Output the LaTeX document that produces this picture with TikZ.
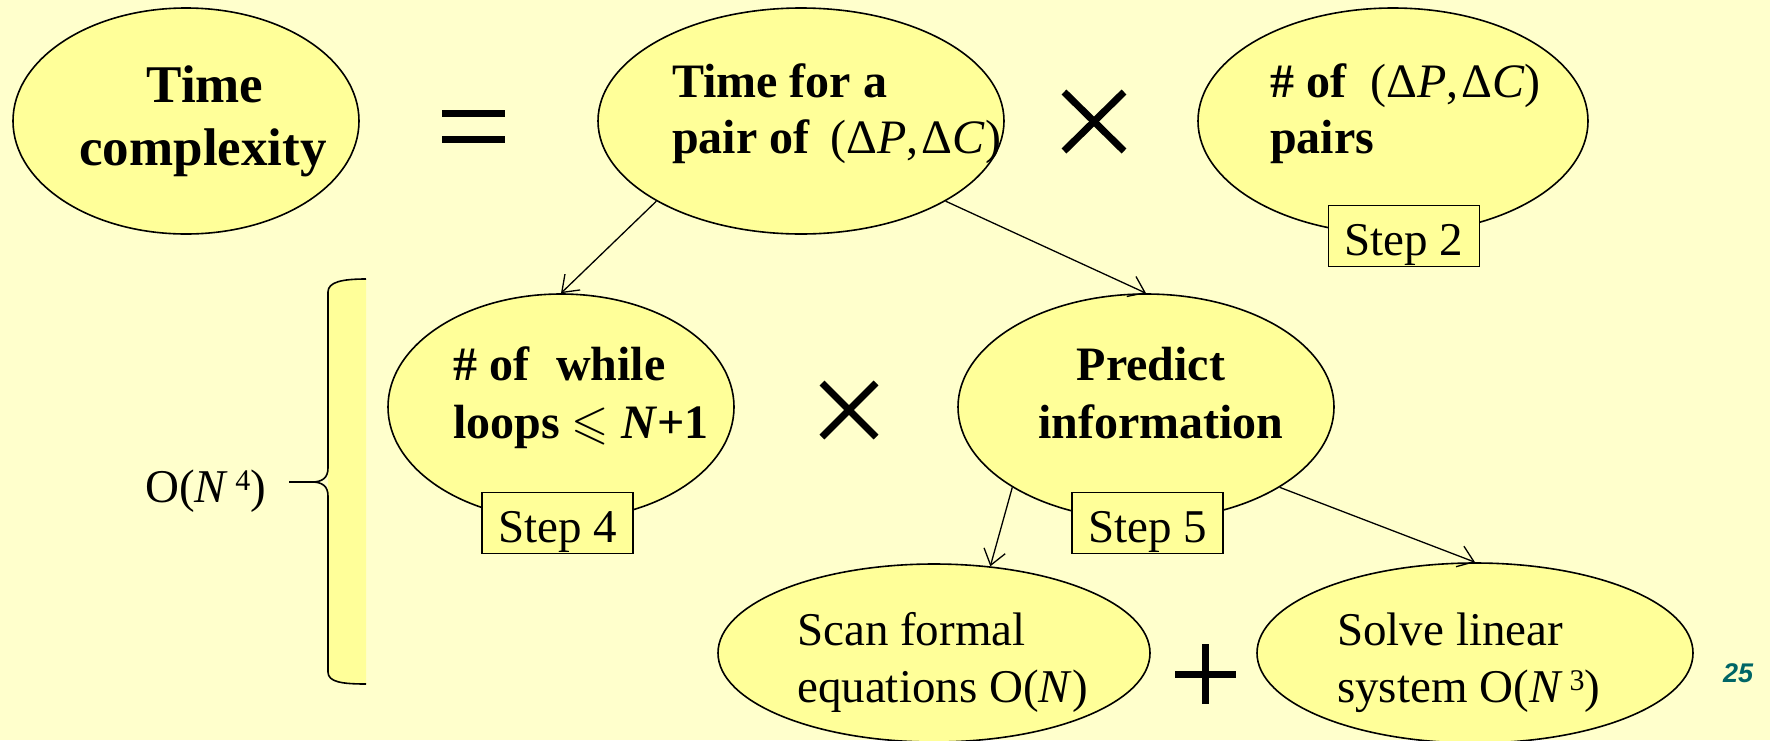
\documentclass[tikz,border=0pt]{standalone}
\usepackage{fontspec}
\setmainfont{Liberation Serif}
\newfontfamily\numfont{Liberation Sans}
\usepackage{amssymb}
\usetikzlibrary{shapes.geometric,arrows.meta}
\definecolor{bgyellow}{HTML}{FFFFCC}
\definecolor{ellyellow}{HTML}{FFFF99}
\definecolor{teal25}{HTML}{006666}
\begin{document}
\begin{tikzpicture}[x=1pt,y=-1pt,
  ell/.style={ellipse,draw=black,fill=ellyellow,line width=1.6pt,inner sep=0pt},
  stepbox/.style={rectangle,draw=black,fill=ellyellow,line width=1.6pt,inner sep=0pt,
    minimum width=151pt,minimum height=61pt,text height=38pt,text depth=0pt,
    font=\fontsize{47}{56}\selectfont},
  bt/.style={font=\fontsize{48}{58}\selectfont\bfseries,inner sep=0pt},
  rt/.style={font=\fontsize{47}{57}\selectfont,inner sep=0pt},
  arr/.style={line width=1.3pt,-{Straight Barb[length=15pt,width=22pt,line width=1.3pt]}},
  sym/.style={line width=7pt}
]
\useasboundingbox (0,0) rectangle (1770,740);
\fill[bgyellow] (0,0) rectangle (1770,740);

% ellipses
\node[ell,minimum width=346pt,minimum height=226pt] (e1) at (186,121) {};
\node[ell,minimum width=406pt,minimum height=226pt] (e2) at (801,121) {};
\node[ell,minimum width=390pt,minimum height=226pt] (e3) at (1393,121) {};
\node[ell,minimum width=346pt,minimum height=226pt] (e4) at (561,407) {};
\node[ell,minimum width=376pt,minimum height=226pt] (e5) at (1146,407) {};
\node[ell,minimum width=432pt,minimum height=178pt] (e6) at (934,653) {};
\node[ell,minimum width=436pt,minimum height=180pt] (e7) at (1475,653) {};

% texts
\node[bt,font=\fontsize{53}{60}\selectfont\bfseries,anchor=base] (t1a) at (205,102) {Time};
\node[bt,font=\fontsize{53}{60}\selectfont\bfseries,anchor=base] (t1b) at (203,165) {complexity};

\node[bt,anchor=base west] (t2a) at (672,97) {Time for a};
\node[bt,anchor=base west] (t2b) at (672,153) {pair of\hspace{21pt}\mdseries(Δ\textit{P},\hspace{3pt}Δ\textit{C})};

\node[bt,anchor=base west] (t3a) at (1270,97) {\# of\hspace{24pt}\mdseries(Δ\textit{P},\hspace{3pt}Δ\textit{C})};
\node[bt,anchor=base west] (t3b) at (1270,153) {pairs};

\node[bt,anchor=base west] (t4a) at (453,380) {\# of\hspace{27pt}while};
\node[bt,anchor=base west] (t4b) at (453,438) {loops $\leqslant$ \textit{N}+1};

\node[bt,anchor=base] (t5a) at (1151,380) {Predict};
\node[bt,anchor=base] (t5b) at (1161,438) {information};

\node[rt,anchor=base west] (t6a) at (797,645) {Scan formal};
\node[rt,anchor=base west] (t6b) at (797,702) {equations O(\textit{N})};

\node[rt,anchor=base west] (t7a) at (1337,645) {Solve linear};
\node[rt,anchor=base west] (t7b) at (1337,702) {system O(\textit{N}\hspace{7pt}\raisebox{12pt}{\fontsize{30}{30}\selectfont 3})};

\node[rt,anchor=base west] (on4) at (145,502) {O(\textit{N}\hspace{7pt}\raisebox{12pt}{\fontsize{30}{30}\selectfont 4})};

\node[font=\fontsize{27}{27}\selectfont\numfont\bfseries\itshape,text=teal25,anchor=base west,inner sep=0pt] (pg) at (1723,682) {25};

% operators
\draw[sym] (442,113) -- (505,113);
\draw[sym] (442,139) -- (505,139);
\draw[sym] (1064,92) -- (1124,151);
\draw[sym] (1064,151) -- (1124,92);
\draw[sym] (822,383) -- (876,437);
\draw[sym] (822,437) -- (876,383);
\draw[sym] (1175,674) -- (1236,674);
\draw[sym] (1205,644) -- (1205,704);

% brace
\fill[ellyellow] (366,279) .. controls (342,279) and (328,282) .. (328,292) -- (328,672) .. controls (328,682) and (342,684) .. (366,684) -- cycle;
\draw[line width=1.6pt] (366,279) .. controls (342,279) and (328,282) .. (328,292) -- (328,468) .. controls (328,478) and (322,482) .. (312,482) -- (289,482) -- (312,482) .. controls (322,482) and (328,486) .. (328,496) -- (328,672) .. controls (328,682) and (342,684) .. (366,684);

% connectors
\draw[arr] (e2.209) -- (e4.north);
\draw[arr] (e2.-29) -- (e5.north);
\draw[arr] (e5.211) -- (e6.57);
\draw[arr] (e5.-31) -- (e7.north);

% step boxes
\node[stepbox] (s2) at (1404,236) {Step 2};
\node[stepbox] (s4) at (557.5,523) {Step 4};
\node[stepbox] (s5) at (1147.5,523) {Step 5};
\end{tikzpicture}
\end{document}
